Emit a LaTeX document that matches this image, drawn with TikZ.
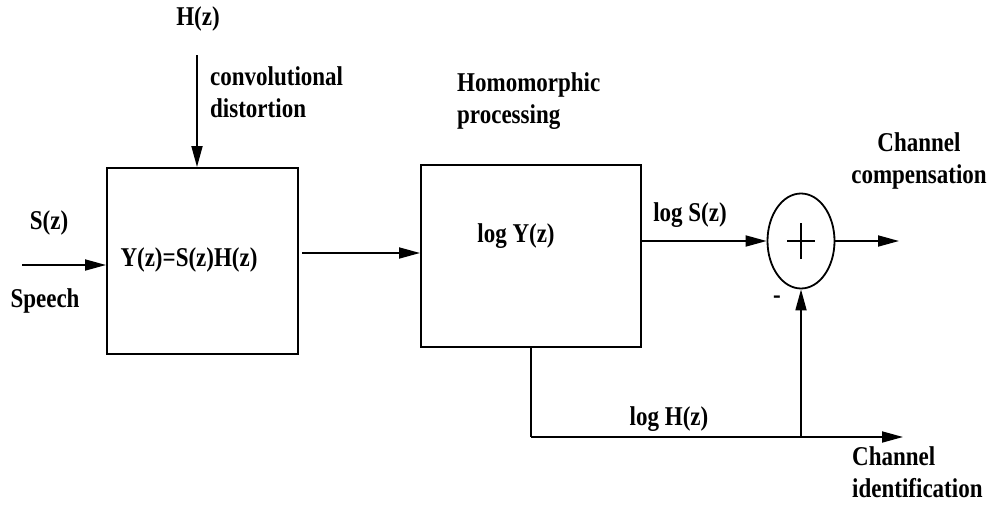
\documentclass[tikz,border=0pt]{standalone}
\usepackage{fontspec}
\setmainfont{Liberation Serif}
\usetikzlibrary{arrows.meta,shapes.geometric}
\newcommand\lbfont{\fontsize{23}{27}\selectfont\bfseries}
\newcommand\tx[1]{\scalebox{1}[1.18]{#1}}
\newcommand\twol[2]{\tx{\begin{tabular}{@{}l@{}}#1\\#2\end{tabular}}}
\newcommand\twoc[2]{\tx{\begin{tabular}{@{}c@{}}#1\\#2\end{tabular}}}
\begin{document}
\begin{tikzpicture}[x=1pt,y=-1pt,
  lbl/.style={font=\lbfont, inner sep=0pt},
  blk/.style={draw, line width=2pt, inner sep=0pt},
  ln/.style={line width=1.8pt},
  arr/.style={line width=1.8pt, -{Triangle[length=21pt,width=11pt]}}]
\useasboundingbox (0,0) rectangle (992,514);
% blocks
\node[blk, minimum width=191pt, minimum height=186pt] (b1) at (202.5,261) {};
\node[blk, minimum width=220pt, minimum height=182pt] (b2) at (531,256) {};
\node[draw, ellipse, line width=1.8pt, minimum width=67pt, minimum height=95pt, inner sep=0pt] (sum) at (801,241) {};
\draw[ln] ([xshift=-14pt]sum.center) -- ([xshift=14pt]sum.center);
\draw[ln] ([yshift=-18pt]sum.center) -- ([yshift=18pt]sum.center);
% coordinates
\coordinate (hzs) at (197,55);
\coordinate (in) at (22,265);
\coordinate (m1) at (302,253);
\coordinate (out) at (899,241);
\coordinate (corner) at (531,437);
\coordinate (idout) at (903,437);
\coordinate (junc) at (sum.south |- corner);
% connectors
\draw[arr] (hzs) -- (hzs |- b1.north);
\draw[arr] (in) -- (in -| b1.west);
\draw[arr] (m1) -- (m1 -| b2.west);
\draw[arr] (b2.east |- sum.west) -- (sum.west);
\draw[arr] (sum.east) -- (out);
\draw[ln] (b2.south) -- (corner);
\draw[arr] (corner) -- (idout);
\draw[arr] (junc) -- (sum.south);
% labels
\node[lbl] (hz) at (198,19) {\tx{H(z)}};
\node[lbl, anchor=west] (conv) at (210,95) {\twol{convolutional}{distortion}};
\node[lbl] (sz) at (49,223) {\tx{S(z)}};
\node[lbl] (sp) at (45,301) {\tx{Speech}};
\node[lbl] (yz) at (189,260) {\tx{Y(z)=S(z)H(z)}};
\node[lbl, anchor=west] (hom) at (457,101) {\twol{Homomorphic}{processing}};
\node[lbl] (lyz) at (516,236) {\tx{log Y(z)}};
\node[lbl] (lsz) at (690,215) {\tx{log S(z)}};
\node[lbl] (cc) at (919,161) {\twoc{Channel}{compensation}};
\node[lbl] (minus) at (777,300) {\tx{-}};
\node[lbl] (lhz) at (669,419) {\tx{log H(z)}};
\node[lbl, anchor=west] (ci) at (852,475) {\twol{Channel}{identification}};
\end{tikzpicture}
\end{document}
